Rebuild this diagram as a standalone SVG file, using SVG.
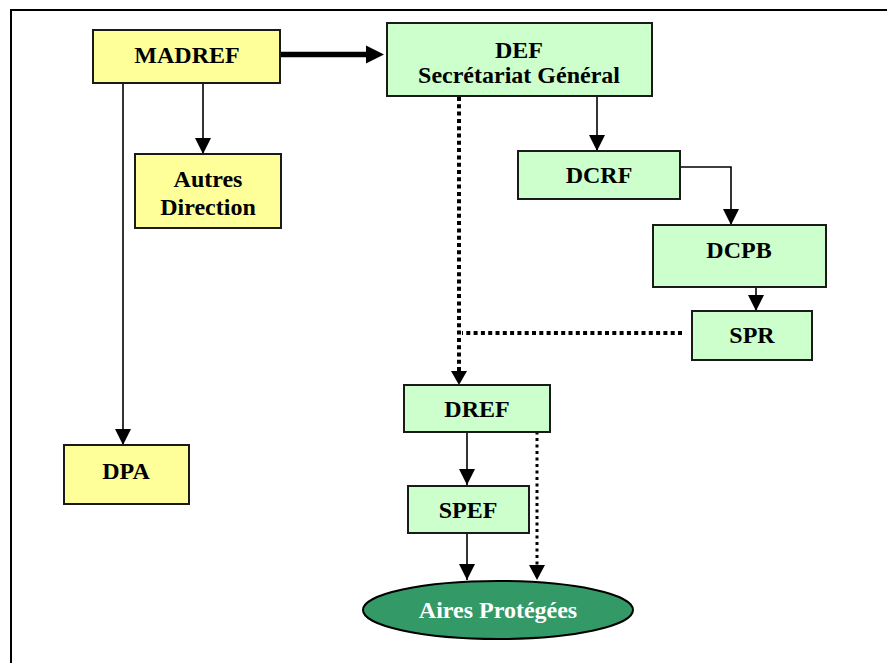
<svg xmlns="http://www.w3.org/2000/svg" width="887" height="663" viewBox="0 0 887 663">
<style>
.box{stroke:#1a1a1a;stroke-width:2}
.y{fill:#FFFF99}
.g{fill:#CCFFCC}
text{font-family:"Liberation Serif","Tinos","Times New Roman","DejaVu Serif",serif;font-weight:bold;font-size:24px;text-anchor:middle;fill:#000}
.ln{fill:none;stroke:#000;stroke-width:1.6}
.dot{fill:none;stroke:#000;stroke-width:4;stroke-dasharray:4 3.3}
.dot2{fill:none;stroke:#000;stroke-width:3;stroke-dasharray:3 3.5}
</style>
<defs>
<marker id="ah" viewBox="0 0 16 16" refX="16" refY="8" markerWidth="16" markerHeight="16" markerUnits="userSpaceOnUse" orient="auto">
<path d="M0,0 L16,8 L0,16 Z" fill="#000"/>
</marker>
</defs>
<rect width="887" height="663" fill="#fff"/>
<path d="M11,663 V10 H887" fill="none" stroke="#000" stroke-width="2"/>
<g id="connectors">
<line x1="281" y1="54.5" x2="368" y2="54.5" stroke="#000" stroke-width="5.5"/>
<path d="M366,45.5 L384,54.5 L366,63.5 Z" fill="#000"/>
<line class="ln" x1="203" y1="83" x2="203" y2="154" marker-end="url(#ah)"/>
<line class="ln" x1="123" y1="83" x2="123" y2="445" marker-end="url(#ah)"/>
<line class="ln" x1="597" y1="96" x2="597" y2="151" marker-end="url(#ah)"/>
<polyline class="ln" points="681,167 731,167 731,225" marker-end="url(#ah)"/>
<line class="ln" x1="756" y1="287" x2="756" y2="311" marker-end="url(#ah)"/>
<line class="dot" x1="459" y1="97" x2="459" y2="372"/>
<path d="M451,371 L467,371 L459,385 Z" fill="#000"/>
<line class="dot" x1="682" y1="333" x2="462" y2="333"/>
<line class="ln" x1="467" y1="432" x2="467" y2="485" marker-end="url(#ah)"/>
<line class="dot2" x1="537" y1="425" x2="537" y2="566"/>
<path d="M529,565 L545,565 L537,580 Z" fill="#000"/>
<line class="ln" x1="467" y1="527" x2="467" y2="580" marker-end="url(#ah)"/>
</g>
<g id="madref"><rect class="box y" x="93" y="30" width="187" height="53"/><text x="187" y="63">MADREF</text></g>
<g id="def"><rect class="box g" x="387" y="23" width="265" height="73"/><text x="519" y="58">DEF</text><text x="519" y="83">Secrétariat Général</text></g>
<g id="autres"><rect class="box y" x="135" y="154" width="146" height="74"/><text x="208" y="187">Autres</text><text x="208" y="215">Direction</text></g>
<g id="dpa"><rect class="box y" x="64" y="445" width="125" height="59"/><text x="126" y="479">DPA</text></g>
<g id="dcrf"><rect class="box g" x="518" y="151" width="162" height="48"/><text x="599" y="183">DCRF</text></g>
<g id="dcpb"><rect class="box g" x="653" y="225" width="173" height="62"/><text x="739" y="258">DCPB</text></g>
<g id="spr"><rect class="box g" x="692" y="311" width="120" height="49"/><text x="752" y="343">SPR</text></g>
<g id="dref"><rect class="box g" x="404" y="385" width="146" height="47"/><text x="477" y="417">DREF</text></g>
<g id="spef"><rect class="box g" x="408" y="486" width="121" height="47"/><text x="468" y="518">SPEF</text></g>
<g id="aires"><ellipse cx="498" cy="610" rx="135" ry="29" fill="#339966" stroke="#000" stroke-width="2"/><text x="498" y="618" style="fill:#fff">Aires Protégées</text></g>
</svg>
